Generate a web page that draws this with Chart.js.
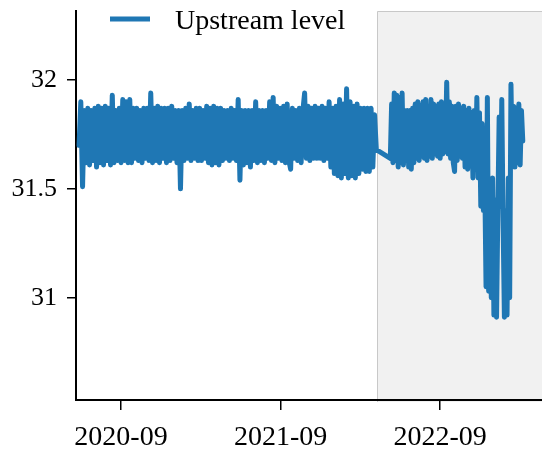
<!DOCTYPE html>
<html>
<head>
<meta charset="utf-8">
<script src="https://cdn.jsdelivr.net/npm/chart.js@4.4.1/dist/chart.umd.min.js"></script>
<style>
  html, body { margin: 0; padding: 0; background: #fff; }
</style>
</head>
<body>
<canvas id="level" width="542" height="452"></canvas>
<script>
// x values are days counted from 2020-01-01
const seriesLabel = 'Upstream level';

const part1Start = 148;   // ~2020-05-28
const part1Step = 4;
const part1Values = [
    31.70, 31.90, 31.51, 31.86, 31.62, 31.87, 31.61, 31.86, 31.63, 31.87,
    31.60, 31.88, 31.62, 31.87, 31.61, 31.88, 31.63, 31.87, 31.61, 31.93,
    31.62, 31.86, 31.63, 31.87, 31.62, 31.91, 31.63, 31.90, 31.62, 31.91,
    31.62, 31.87, 31.64, 31.87, 31.63, 31.86, 31.62, 31.87, 31.64, 31.87,
    31.63, 31.94, 31.62, 31.87, 31.63, 31.88, 31.62, 31.87, 31.64, 31.87,
    31.62, 31.87, 31.63, 31.88, 31.64, 31.86, 31.62, 31.86, 31.50, 31.86,
    31.63, 31.87, 31.64, 31.89, 31.63, 31.86, 31.64, 31.87, 31.63, 31.87,
    31.63, 31.86, 31.64, 31.88, 31.62, 31.87, 31.61, 31.88, 31.62, 31.87,
    31.61, 31.87, 31.63, 31.86, 31.64, 31.86, 31.63, 31.87, 31.64, 31.86,
    31.63, 31.91, 31.54, 31.86, 31.61, 31.86, 31.62, 31.86, 31.60, 31.86,
    31.63, 31.90, 31.62, 31.86, 31.63, 31.86, 31.62, 31.86, 31.64, 31.90,
    31.63, 31.92, 31.62, 31.88, 31.64, 31.87, 31.63, 31.88, 31.62, 31.89,
    31.63, 31.59, 31.87, 31.64, 31.86, 31.63, 31.87, 31.62, 31.86, 31.94,
    31.64, 31.88, 31.63, 31.87, 31.64, 31.88, 31.64, 31.87, 31.64, 31.88,
    31.63, 31.87, 31.64, 31.90, 31.60, 31.87, 31.57, 31.88, 31.56, 31.91,
    31.55, 31.89, 31.57, 31.96, 31.55, 31.90, 31.56, 31.88, 31.55, 31.89,
    31.57, 31.87, 31.59, 31.87, 31.58, 31.87, 31.58, 31.87, 31.60, 31.84, 31.68
];

const part2Start = 860;   // ~2022-05-10
const part2Step = 3;
const part2Values = [
    31.64, 31.89, 31.62, 31.94, 31.63, 31.93, 31.60, 31.92, 31.62, 31.94,
    31.61, 31.86, 31.63, 31.86, 31.60, 31.86, 31.59, 31.87, 31.62, 31.89,
    31.64, 31.90, 31.63, 31.88, 31.65, 31.90, 31.64, 31.91, 31.63, 31.88,
    31.65, 31.91, 31.64, 31.89, 31.66, 31.88, 31.65, 31.89, 31.64, 31.90,
    31.66, 31.89, 31.67, 31.99, 31.66, 31.90, 31.64, 31.88, 31.62, 31.58,
    31.88, 31.63, 31.89, 31.65, 31.87, 31.64, 31.88, 31.60, 31.86, 31.59,
    31.87, 31.62, 31.85, 31.55, 31.86, 31.60, 31.92, 31.55, 31.85, 31.42,
    31.80, 31.40, 31.55, 31.05, 31.92, 31.03, 31.50, 31.00, 31.55, 30.92,
    31.45, 30.91, 31.40, 31.83, 31.42, 31.91, 31.35, 30.91, 31.40, 30.92,
    31.55, 31.00, 31.98, 31.60, 31.88, 31.60, 31.87, 31.62, 31.89, 31.61, 31.86, 31.72
];

const shadeFrom = 830;    // shaded period starts ~2022-04-10
const xTickDays = [244, 609, 974];
const xTickLabels = ['2020-09', '2021-09', '2022-09'];
const yTicks = [31, 31.5, 32];

const serif = '"Liberation Serif", "Times New Roman", serif';

function toPoints(start, step, values) {
    return values.map((v, i) => ({ x: start + i * step, y: v }));
}

const points = toPoints(part1Start, part1Step, part1Values)
    .concat(toPoints(part2Start, part2Step, part2Values));

const shadePlugin = {
    id: 'shade',
    beforeDraw(chart) {
        const { ctx, chartArea, scales } = chart;
        const x0 = Math.round(scales.x.getPixelForValue(shadeFrom)) + 0.5;
        ctx.save();
        ctx.fillStyle = '#f1f1f1';
        ctx.fillRect(x0, chartArea.top, chartArea.right - x0, chartArea.bottom - chartArea.top + 2);
        ctx.strokeStyle = '#c8c8c8';
        ctx.lineWidth = 1;
        ctx.beginPath();
        ctx.moveTo(x0, chartArea.bottom + 2);
        ctx.lineTo(x0, chartArea.top + 0.5);
        ctx.lineTo(chartArea.right, chartArea.top + 0.5);
        ctx.stroke();
        ctx.restore();
    }
};

const legendPlugin = {
    id: 'lineLegend',
    afterDraw(chart) {
        const { ctx, chartArea } = chart;
        const ds = chart.data.datasets[0];
        const x = chartArea.left + 34;
        const y = chartArea.top + 8;
        ctx.save();
        ctx.strokeStyle = ds.borderColor;
        ctx.lineWidth = 5;
        ctx.beginPath();
        ctx.moveTo(x, y);
        ctx.lineTo(x + 40, y);
        ctx.stroke();
        ctx.fillStyle = '#000';
        ctx.font = '28px ' + serif;
        ctx.textBaseline = 'alphabetic';
        ctx.fillText(ds.label, x + 65, y + 10);
        ctx.restore();
    }
};

new Chart(document.getElementById('level'), {
    type: 'line',
    data: {
        datasets: [{
            label: seriesLabel,
            data: points,
            borderColor: '#1f77b4',
            borderWidth: 5,
            borderJoinStyle: 'round',
            borderCapStyle: 'round',
            pointRadius: 0,
            tension: 0,
            fill: false
        }]
    },
    options: {
        responsive: false,
        animation: false,
        layout: { padding: { top: 11, right: 0, left: 0, bottom: 0 } },
        plugins: {
            legend: { display: false },
            tooltip: { enabled: false }
        },
        scales: {
            x: {
                type: 'linear',
                min: 141,
                max: 1207,
                afterBuildTicks: s => { s.ticks = xTickDays.map(v => ({ value: v })); },
                afterFit: s => { s.height = 52; s.paddingLeft = 0; s.paddingRight = 0; },
                ticks: {
                    color: '#000',
                    font: { family: serif, size: 28 },
                    padding: 11,
                    maxRotation: 0,
                    autoSkip: false,
                    callback: v => xTickLabels[xTickDays.indexOf(v)]
                },
                grid: { drawOnChartArea: false, tickLength: 10, color: '#000', lineWidth: 1.5 },
                border: { color: '#000', width: 2 }
            },
            y: {
                min: 30.53,
                max: 32.317,
                afterBuildTicks: s => { s.ticks = yTicks.map(v => ({ value: v })); },
                afterFit: s => { s.width = 76; s.paddingTop = 0; s.paddingBottom = 0; },
                ticks: {
                    color: '#000',
                    font: { family: serif, size: 26 },
                    padding: 10,
                    callback: v => String(v)
                },
                grid: { drawOnChartArea: false, tickLength: 9, color: '#000', lineWidth: 1.5 },
                border: { color: '#000', width: 2 }
            }
        }
    },
    plugins: [shadePlugin, legendPlugin]
});
</script>
</body>
</html>
